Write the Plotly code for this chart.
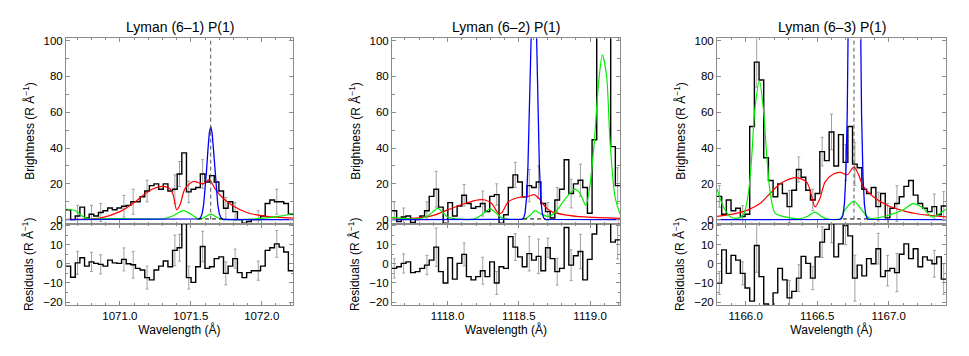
import numpy as np
import plotly.graph_objects as go

# ---------------- data ----------------
titles = ["Lyman (6\u20131) P(1)", "Lyman (6\u20132) P(1)", "Lyman (6\u20133) P(1)"]
x_ranges = [[1070.62, 1072.22], [1117.61, 1119.21], [1165.80, 1167.40]]
x_ticks = [[1071.0, 1071.5, 1072.0], [1118.0, 1118.5, 1119.0], [1166.0, 1166.5, 1167.0]]
n_bins = 49

data1 = [5.5, 0, 2, 7, 1, 3, 2, 4, 5, 6.5, 5.5, 6.5, 7.5, 8, 10, 10, 12.8, 16, 19, 20,
         17, 20, 16, 17, 25.5, 37.3, 15.5, 17, 18, 25.5, 21, 24.6, 21, 16, 6.4, 10, 4.5, 0, -2, -1,
         0, 0, 2, 9, 11, 10, 10, 9, 3]
data2 = [5, -1, 1.5, 2, -1.5, 0, 2, 5, 13, 17, 7, -2, 9.5, 2, 7.6, 13.6, 9, 6.4, 7.3, 9,
         4.5, 13, 14, -2, 2.7, 18, 25, 21, 12.7, 19, 18, 21, 9, 4.5, 0.9, 11, 17, 33.5, 14.6, 20,
         22, 18, 3.6, 44.6, 140, 150, 120, 40.8, 19]
data3 = [13, 3, 11, 5, 6.4, 1.8, 3, 52, 88, 78, 34.6, 21.9, 12.8, 20, 14.6, 7.3, 16.4, 28, 23.7, 16.4,
         11, 14.6, 38, 33, 49, 30, 47.5, 32, 52, 31, 29, 17, 14.6, 18, 7.3, 14.6, 1, 6.4, 9, 12.8,
         18.6, 21.9, 13.7, 9, 6.4, 4.5, 7.3, 2.7, 7.6]

resid1 = [-1.2, -7, 0.5, 3.2, -1.2, 1, 0.2, -0.3, -1.2, 1.9, 0.5, 0.2, 2.3, 0, -0.5, -2.4, -3.2, -7.2, -8.4, -3.2,
          -1.2, 1.5, -1.5, 7, 8.4, 25, -7.2, -9.7, -1.5, 9, -2.4, -1.5, 2.7, 3.6, -5, -1.2, 2.7, -4.6, -7.2, -4.6,
          -3.6, -3.6, -1.2, 7, 8.4, 10.4, 8.7, 6.2, -3.6]
resid2 = [-2.4, -1.5, 0.2, 1, -4.6, -4.1, -2.4, -0.7, 1.9, 8.7, -4.1, -10, 3.2, -8, 0.2, 4.9, -6.7, -8.4, -6.7, -3.6,
          -6.7, 1, -10, -1.5, -2.4, 14.2, 8.7, 3.6, -1.5, 5.3, 1.9, 3.9, -3.6, 8.4, 2.7, -4.1, -2.4, 19, -0.7, 4.2,
          6.4, -8.4, 2.3, 15.6, 30, 30, 30, 11.3, 12.5]
resid3 = [-10, 7.3, -5, 4.4, 1.9, -5, -12.6, -19.5, 9.6, -6.7, -21, -22, -15.2, -2.4, -8.4, -17.8, -14.4, -7.5, 3.9, 0.2,
          -7.5, 3.6, 11.3, 18, 21, 3.6, 10.4, 20, 14.6, -7.5, -0.7, -6.3, 2.7, 0, 7.9, -6.7, -3.6, -2.4, -4.6, 5,
          10.4, 2.7, 7.9, -1.5, 3.6, 1.9, 0, 3.6, -8]

# error bars: bin index -> error
err1 = {2: 6, 5: 5, 7: 5, 12: 6, 14: 7, 17: 6, 23: 8, 24: 7, 26: 6, 29: 8, 34: 6, 36: 5, 41: 5, 45: 7}
err2 = {0: 5, 2: 5, 7: 5, 9: 10, 15: 6, 19: 7, 22: 6, 26: 7, 29: 9, 31: 9, 33: 5, 35: 7, 38: 8, 40: 9, 48: 10}
err3 = {0: 6, 5: 6, 8: 14, 15: 9, 17: 7, 20: 6, 22: 8, 24: 10, 27: 10, 29: 12, 34: 8, 36: 8, 38: 10, 46: 7, 48: 8}

# model curves (wavelength, brightness)
red1_x = [1070.625, 1070.86, 1071.0, 1071.094, 1071.165, 1071.235, 1071.306, 1071.353, 1071.376, 1071.40,
          1071.423, 1071.459, 1071.517, 1071.588, 1071.63, 1071.67, 1071.729, 1071.799, 1071.894, 1072.035, 1072.22]
red1_y = [0.2, 0.9, 4.5, 9.1, 13.7, 17.3, 18.6, 17.3, 13.7, 5.5, 8.2, 17.3, 21.3, 20, 22.4, 17.3, 11.8, 7.6, 4, 1.8, 0.9]
green1_x = [1070.625, 1070.683, 1070.73, 1070.777, 1070.9, 1071.1, 1071.3, 1071.376, 1071.447, 1071.517, 1071.552,
            1071.59, 1071.64, 1071.693, 1071.75, 1071.9, 1072.035, 1072.13, 1072.22]
green1_y = [5.8, 5.1, 2.2, 0.4, 0.6, 0.5, 0.5, 2.2, 5.1, 2.2, 0.4, 1, 3.1, 0.9, 0.1, 0.2, 1, 2.0, 3.3]
blue1_x = [1070.62, 1071.55, 1071.56, 1071.57, 1071.58, 1071.59, 1071.60, 1071.61, 1071.62, 1071.63, 1071.64,
           1071.65, 1071.66, 1071.67, 1071.68, 1071.69, 1071.70, 1071.71, 1071.72, 1071.73, 1072.22]
blue1_y = [0, 0.1, 0.45, 1.4, 3.6, 8.2, 15.9, 26.7, 38.7, 48.3, 52, 48.3, 38.7, 26.7, 15.9, 8.2, 3.6, 1.4, 0.45, 0.1, 0]

red2_x = [1117.61, 1117.795, 1117.912, 1118.029, 1118.122, 1118.216, 1118.263, 1118.31, 1118.356, 1118.38,
          1118.426, 1118.497, 1118.567, 1118.609, 1118.649, 1118.684, 1118.731, 1118.824, 1118.964, 1119.21]
red2_y = [0.3, 1, 2.7, 6.4, 9, 11, 11, 9, 3.6, 3.8, 10, 12.4, 13, 14, 11, 7.3, 4.5, 2.7, 1.5, 0.7]
green2_x = [1117.61, 1117.795, 1117.853, 1117.90, 1117.93, 1117.96, 1118.0, 1118.06, 1118.19, 1118.24, 1118.298,
            1118.345, 1118.39, 1118.545, 1118.58, 1118.614, 1118.656, 1118.707, 1118.754, 1118.801, 1118.848,
            1118.894, 1118.93, 1118.97, 1119.0, 1119.03, 1119.058, 1119.086, 1119.116, 1119.14, 1119.175, 1119.21]
green2_y = [1.3, 0.5, 1.8, 4.5, 6.4, 4.5, 1.5, 0.4, 0.4, 2.7, 6, 3.3, 0.7, 0.5, 2.5, 5, 3.1, 1.8, 4, 9, 13.7,
            17, 14.6, 8, 20, 43.7, 74.7, 92, 80, 43.7, 12.8, 3.1]
blue2_x = [1117.61, 1118.524, 1118.534, 1118.544, 1118.554, 1118.564, 1118.574, 1118.584, 1118.594, 1118.604,
           1118.614, 1118.624, 1118.634, 1118.644, 1118.654, 1118.664, 1118.674, 1118.684, 1119.21]
blue2_y = [0, 0.2, 1, 3.8, 12, 30, 62, 104.5, 142, 158, 142, 104.5, 62, 30, 12, 3.8, 1, 0.2, 0]

red3_x = [1165.8, 1165.984, 1166.10, 1166.17, 1166.24, 1166.31, 1166.357, 1166.427, 1166.462, 1166.485, 1166.52,
          1166.555, 1166.613, 1166.66, 1166.71, 1166.757, 1166.787, 1166.822, 1166.892, 1166.985, 1167.078,
          1167.195, 1167.40]
red3_y = [1.8, 4.5, 9, 14.6, 20, 22.8, 23.5, 21, 12.8, 7.1, 12, 21, 25.5, 26.4, 25.1, 29.5, 25.5, 18.6, 12.8, 8.2,
          5.5, 3.3, 1.5]
green3_x = [1165.8, 1165.844, 1165.891, 1165.937, 1165.984, 1166.019, 1166.042, 1166.065, 1166.096, 1166.124,
            1166.147, 1166.17, 1166.205, 1166.263, 1166.38, 1166.43, 1166.485, 1166.53, 1166.566, 1166.66, 1166.694,
            1166.757, 1166.811, 1166.869, 1167.009, 1167.102, 1167.172, 1167.241, 1167.30, 1167.358, 1167.40]
green3_y = [17.3, 7.3, 1.8, 0.7, 2.7, 14.6, 34.6, 62, 77.5, 62, 36.4, 16.4, 3.6, 1.8, 0.5, 1.8, 4.2, 1.8, 0.5, 0.5,
            5.5, 10.4, 5.5, 0.8, 2.7, 5.5, 9, 6.4, 1.5, 3.6, 5.8]
blue3_x = [1165.8, 1166.66, 1166.67, 1166.68, 1166.69, 1166.70, 1166.71, 1166.72, 1166.73, 1166.74, 1166.75,
           1166.76, 1166.77, 1166.78, 1166.79, 1166.80, 1166.81, 1166.82, 1166.83, 1166.84, 1166.85, 1166.86, 1167.40]
blue3_y = [0, 0.14, 0.65, 2.5, 8.5, 24, 59, 122, 214, 320, 408, 442, 408, 320, 214, 122, 59, 24, 8.5, 2.5, 0.65,
           0.14, 0]

line_centres = [1071.64, None, 1166.757]
absorb_ranges = [[1071.55, 1071.73], [1118.53, 1118.69], [1166.68, 1166.87]]
absorb_level = 0.4

panels = [
    dict(data=data1, resid=resid1, err=err1, red=(red1_x, red1_y), green=(green1_x, green1_y), blue=(blue1_x, blue1_y)),
    dict(data=data2, resid=resid2, err=err2, red=(red2_x, red2_y), green=(green2_x, green2_y), blue=(blue2_x, blue2_y)),
    dict(data=data3, resid=resid3, err=err3, red=(red3_x, red3_y), green=(green3_x, green3_y), blue=(blue3_x, blue3_y)),
]

# ---------------- layout geometry ----------------
W, H = 969, 356
x_px = [(66, 293), (392, 620), (717, 946)]
top_px = (35, 224)
bot_px = (224, 307)
top_range = [-2.2, 101.3]
bot_range = [-21.5, 21.0]

FONT = "Liberation Sans, Arial, Helvetica, sans-serif"
AX_COL = "#8c8c8c"


def py(p):
    return 1 - p / H


fig = go.Figure()
layout = dict(width=W, height=H, margin=dict(l=0, r=0, t=0, b=0),
              paper_bgcolor="white", plot_bgcolor="white", showlegend=False,
              font=dict(family=FONT, size=11, color="black"))
annotations = []
shapes = []

for i, p in enumerate(panels):
    xt = "x" if i == 0 else f"x{i + 1}"
    yt = "y" if i == 0 else f"y{i + 1}"
    xb = f"x{i + 4}"
    yb = f"y{i + 4}"
    lo, hi = x_ranges[i]
    w = (hi - lo) / n_bins
    edges = lo + w * np.arange(n_bins + 1)
    centres = edges[:-1] + w / 2
    vals = list(p["data"])
    res = list(p["resid"])
    idx = sorted(p["err"].keys())
    ev = [p["err"][k] for k in idx]

    for (vv, xa, ya) in [(vals, xt, yt), (res, xb, yb)]:
        fig.add_trace(go.Scatter(x=[centres[k] for k in idx], y=[vv[k] for k in idx], mode="markers",
                                 marker=dict(size=1, color="rgba(0,0,0,0)"),
                                 error_y=dict(type="data", array=ev, color="#a0a0a0", thickness=1, width=1.5),
                                 xaxis=xa, yaxis=ya, hoverinfo="skip"))
        fig.add_trace(go.Scatter(x=edges, y=vv + [vv[-1]], mode="lines", line=dict(color="black", width=1.4, shape="hv"),
                                 xaxis=xa, yaxis=ya, hoverinfo="skip"))

    fig.add_trace(go.Scatter(x=p["red"][0], y=p["red"][1], mode="lines",
                             line=dict(color="#ff0000", width=1.2, shape="spline", smoothing=0.8), xaxis=xt, yaxis=yt))
    fig.add_trace(go.Scatter(x=p["green"][0], y=p["green"][1], mode="lines",
                             line=dict(color="#00ee00", width=1.2, shape="spline", smoothing=0.8), xaxis=xt, yaxis=yt))
    fig.add_trace(go.Scatter(x=p["blue"][0], y=p["blue"][1], mode="lines",
                             line=dict(color="#0000ff", width=1.3), xaxis=xt, yaxis=yt))
    a0, a1 = absorb_ranges[i]
    fig.add_trace(go.Scatter(x=[a0, a1], y=[absorb_level, absorb_level], mode="lines",
                             line=dict(color="black", width=1, dash="4px,3px"), xaxis=xt, yaxis=yt))
    if line_centres[i] is not None:
        shapes.append(dict(type="line", xref=xt, yref=yt, x0=line_centres[i], x1=line_centres[i],
                           y0=0, y1=top_range[1], line=dict(color="#555555", width=1, dash="4px,3px")))

    dom = [x_px[i][0] / W, x_px[i][1] / W]
    common_x = dict(domain=dom, range=[lo, hi], showline=True, linecolor=AX_COL, linewidth=1, mirror="ticks",
                    ticks="inside", ticklen=4, tickcolor=AX_COL, tickvals=x_ticks[i], showgrid=False, zeroline=False,
                    minor=dict(dtick=0.1, ticks="inside", ticklen=2, tickcolor=AX_COL))
    layout["xaxis" + ("" if i == 0 else str(i + 1))] = dict(common_x, anchor=yt, showticklabels=False)
    layout[f"xaxis{i + 4}"] = dict(common_x, anchor=yb, matches=xt, showticklabels=True, tickformat=".1f",
                                   tickfont=dict(size=11.5),
                                   title=dict(text="Wavelength (\u00c5)", font=dict(size=12), standoff=2))
    layout["yaxis" + ("" if i == 0 else str(i + 1))] = dict(
        domain=[py(top_px[1]), py(top_px[0])], anchor=xt, range=top_range, showline=True, linecolor=AX_COL,
        mirror="ticks", ticks="inside", ticklen=4, tickcolor=AX_COL, tickvals=[0, 20, 40, 60, 80, 100],
        showgrid=False, zeroline=False, tickfont=dict(size=11.5),
        minor=dict(dtick=10, ticks="inside", ticklen=3, tickcolor=AX_COL),
        title=dict(text="Brightness (R \u00c5<sup>\u22121</sup>)", font=dict(size=12), standoff=6))
    layout[f"yaxis{i + 4}"] = dict(
        domain=[py(bot_px[1]), py(bot_px[0])], anchor=xb, range=bot_range, showline=True, linecolor=AX_COL,
        mirror="ticks", ticks="inside", ticklen=4, tickcolor=AX_COL, tickvals=[-20, -10, 0, 10, 20],
        showgrid=False, zeroline=False, tickfont=dict(size=11.5),
        minor=dict(dtick=5, ticks="inside", ticklen=2, tickcolor=AX_COL),
        title=dict(text="Residuals (R \u00c5<sup>\u22121</sup>)", font=dict(size=12), standoff=6))
    annotations.append(dict(text=titles[i], x=(dom[0] + dom[1]) / 2, y=py(23), xref="paper", yref="paper",
                            showarrow=False, font=dict(size=14), xanchor="center", yanchor="middle"))

layout["annotations"] = annotations
layout["shapes"] = shapes
fig.update_layout(**layout)
fig.write_html("out.html", config={"displayModeBar": False},
               post_script="document.body.style.margin='0';document.body.style.overflow='hidden';")
